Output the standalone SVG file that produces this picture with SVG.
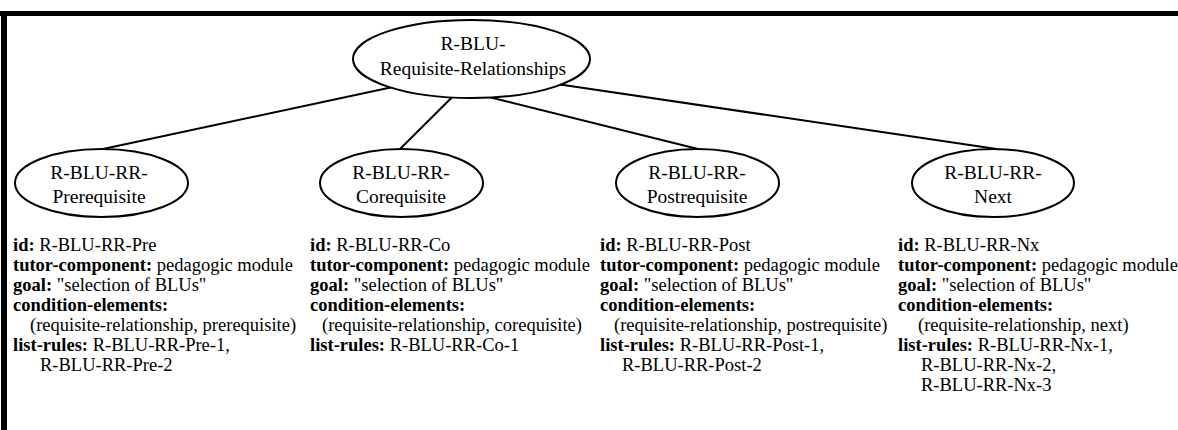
<svg xmlns="http://www.w3.org/2000/svg" width="1178" height="430" viewBox="0 0 1178 430">
<style>
.bg{fill:#ffffff}
.frame{fill:#000000}
.node ellipse{fill:#ffffff;stroke:#000000;stroke-width:2}
.lbl{font-family:"Liberation Serif","Times New Roman",serif;font-size:19.5px;fill:#000000;text-anchor:middle}
.attr{font-family:"Liberation Serif","Times New Roman",serif;font-size:18.5px;fill:#000000}
.attr .b{font-weight:bold}
.edge line{stroke:#000000;stroke-width:2}
</style>
<rect class="bg" x="0" y="0" width="1178" height="430"/>
<g id="frame">
<rect class="frame" x="0" y="11" width="1178" height="5"/>
<rect class="frame" x="1" y="11" width="6" height="419"/>
</g>
<g id="connectors" class="edge">
<line x1="391.7" y1="87.3" x2="103" y2="149"/>
<line x1="453.3" y1="96" x2="400" y2="149"/>
<line x1="490" y1="97.3" x2="698" y2="149"/>
<line x1="556.7" y1="84" x2="996.7" y2="149"/>
</g>
<g id="node-root" class="node">
<ellipse cx="471.5" cy="59" rx="118.5" ry="39"/>
<text class="lbl" x="473" y="50">R-BLU-</text>
<text class="lbl" x="473" y="75">Requisite-Relationships</text>
</g>
<g id="node-prerequisite" class="node">
<ellipse cx="101.5" cy="183" rx="86.5" ry="34"/>
<text class="lbl" x="99" y="179">R-BLU-RR-</text>
<text class="lbl" x="99" y="203">Prerequisite</text>
<text class="attr" x="13" y="251"><tspan class="b">id:</tspan> R-BLU-RR-Pre</text>
<text class="attr" x="13" y="271"><tspan class="b">tutor-component:</tspan> pedagogic module</text>
<text class="attr" x="13" y="291"><tspan class="b">goal:</tspan> "selection of BLUs"</text>
<text class="attr" x="13" y="311"><tspan class="b">condition-elements:</tspan></text>
<text class="attr" x="30" y="331">(requisite-relationship, prerequisite)</text>
<text class="attr" x="13" y="351"><tspan class="b">list-rules:</tspan> R-BLU-RR-Pre-1,</text>
<text class="attr" x="40" y="371">R-BLU-RR-Pre-2</text>
</g>
<g id="node-corequisite" class="node">
<ellipse cx="401.5" cy="183" rx="81.5" ry="34"/>
<text class="lbl" x="401" y="179">R-BLU-RR-</text>
<text class="lbl" x="401" y="203">Corequisite</text>
<text class="attr" x="310" y="251"><tspan class="b">id:</tspan> R-BLU-RR-Co</text>
<text class="attr" x="310" y="271"><tspan class="b">tutor-component:</tspan> pedagogic module</text>
<text class="attr" x="310" y="291"><tspan class="b">goal:</tspan> "selection of BLUs"</text>
<text class="attr" x="310" y="311"><tspan class="b">condition-elements:</tspan></text>
<text class="attr" x="322" y="331">(requisite-relationship, corequisite)</text>
<text class="attr" x="310" y="351"><tspan class="b">list-rules:</tspan> R-BLU-RR-Co-1</text>
</g>
<g id="node-postrequisite" class="node">
<ellipse cx="697.5" cy="183" rx="81.5" ry="34"/>
<text class="lbl" x="697" y="179">R-BLU-RR-</text>
<text class="lbl" x="697" y="203">Postrequisite</text>
<text class="attr" x="600" y="251"><tspan class="b">id:</tspan> R-BLU-RR-Post</text>
<text class="attr" x="600" y="271"><tspan class="b">tutor-component:</tspan> pedagogic module</text>
<text class="attr" x="600" y="291"><tspan class="b">goal:</tspan> "selection of BLUs"</text>
<text class="attr" x="600" y="311"><tspan class="b">condition-elements:</tspan></text>
<text class="attr" x="614" y="331">(requisite-relationship, postrequisite)</text>
<text class="attr" x="600" y="351"><tspan class="b">list-rules:</tspan> R-BLU-RR-Post-1,</text>
<text class="attr" x="622" y="371">R-BLU-RR-Post-2</text>
</g>
<g id="node-next" class="node">
<ellipse cx="993" cy="183" rx="81" ry="34"/>
<text class="lbl" x="993" y="179">R-BLU-RR-</text>
<text class="lbl" x="993" y="203">Next</text>
<text class="attr" x="898" y="251"><tspan class="b">id:</tspan> R-BLU-RR-Nx</text>
<text class="attr" x="898" y="271"><tspan class="b">tutor-component:</tspan> pedagogic module</text>
<text class="attr" x="898" y="291"><tspan class="b">goal:</tspan> "selection of BLUs"</text>
<text class="attr" x="898" y="311"><tspan class="b">condition-elements:</tspan></text>
<text class="attr" x="918" y="331">(requisite-relationship, next)</text>
<text class="attr" x="898" y="351"><tspan class="b">list-rules:</tspan> R-BLU-RR-Nx-1,</text>
<text class="attr" x="921" y="371">R-BLU-RR-Nx-2,</text>
<text class="attr" x="921" y="391">R-BLU-RR-Nx-3</text>
</g>
</svg>
